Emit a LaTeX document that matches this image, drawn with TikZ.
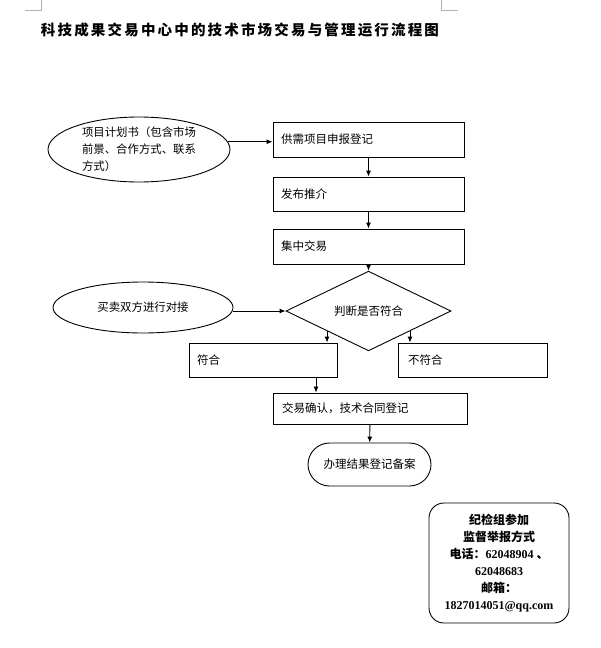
\documentclass[tikz,border=0pt]{standalone}
\usepackage{fontspec}
\setmainfont{Liberation Serif}
\newfontfamily\cjk{Noto Sans CJK SC}
\newfontfamily\cjktitle{Noto Sans CJK SC}[LetterSpace=15]
\usetikzlibrary{arrows.meta, positioning, shapes.geometric}

\begin{document}
\begin{tikzpicture}[x=1pt, y=-1pt, >={Latex[length=6pt,width=5pt]},
  every path/.style={line width=0.9pt},
  box/.style={draw, rectangle, inner xsep=8pt, inner ysep=0pt, align=left,
    font=\cjk\fontsize{11.5}{14}\selectfont},
  oval/.style={draw, ellipse, inner sep=0pt, align=left,
    font=\cjk\fontsize{11.4}{17}\selectfont}]
  \useasboundingbox (0,0) rectangle (600,648);
  % page corner marks
  \draw[gray!60, line width=0.6pt] (25,10) -- (41,10) -- (41,0);
  \draw[gray!60, line width=0.6pt] (458,10) -- (441,10) -- (441,0);
  % title
  \node (title) at (240,30) {\cjktitle\bfseries\fontsize{14.5}{16}\selectfont 科技成果交易中心中的技术市场交易与管理运行流程图};
  % main column
  \node[box, text width=175, minimum height=35] (apply) at (368.5,139.5) {供需项目申报登记};
  \node[box, text width=175, minimum height=34] (publish) at (368.5,194) {发布推介};
  \node[box, text width=175, minimum height=35] (trade) at (368.5,246.5) {集中交易};
  \node[draw, diamond, inner sep=0pt, minimum width=165, minimum height=52,
    font=\cjk\fontsize{11.5}{14}\selectfont] (judge) at (368.5,311) {判断是否符合};
  \node[box, text width=132, minimum height=34] (yes) at (263,360) {符合};
  \node[box, inner xsep=10pt, text width=129, minimum height=34] (no) at (472.5,360) {不符合};
  \node[box, inner xsep=9pt, text width=176, minimum height=31] (confirm) at (370,408.5) {交易确认，技术合同登记};
  \node[draw, rectangle, rounded corners=21.5pt, minimum width=123, minimum height=43,
    font=\cjk\fontsize{11.5}{14}\selectfont] (finish) at (369.5,464.5) {办理结果登记备案};
  % side inputs
  \node[oval, minimum width=182, minimum height=65] (plan) at (139,149.5)
    {项目计划书（包含市场\\前景、合作方式、联系\\方式）};
  \node[oval, minimum width=180, minimum height=51] (meet) at (143,307.5) {买卖双方进行对接};
  % supervision box
  \node[draw, rectangle, rounded corners=15pt, minimum width=140, minimum height=120,
    align=center, font=\bfseries\fontsize{12}{17}\selectfont] (watch) at (499,563)
    {{\cjk 纪检组参加}\\{\cjk 监督举报方式}\\{\cjk 电话：}62048904 {\cjk 、}\\62048683\\{\cjk 邮箱：}\\1827014051@qq.com};
  % connectors
  \draw[->] (plan.5) -- (plan.5 -| apply.west);
  \draw[->] (apply) -- (publish);
  \draw[->] (publish) -- (trade);
  \draw[->] (trade) -- (judge);
  \draw[->] (meet.east |- judge.west) -- (judge.west);
  \draw[->] (judge.south west) -- (judge.south west |- yes.north);
  \draw[->] (judge.south east) -- (judge.south east |- no.north);
  \draw[->] ([xshift=53]yes.south) -- ([xshift=53]yes.south |- confirm.north);
  \draw[->] (confirm) -- (finish);
\end{tikzpicture}
\end{document}
